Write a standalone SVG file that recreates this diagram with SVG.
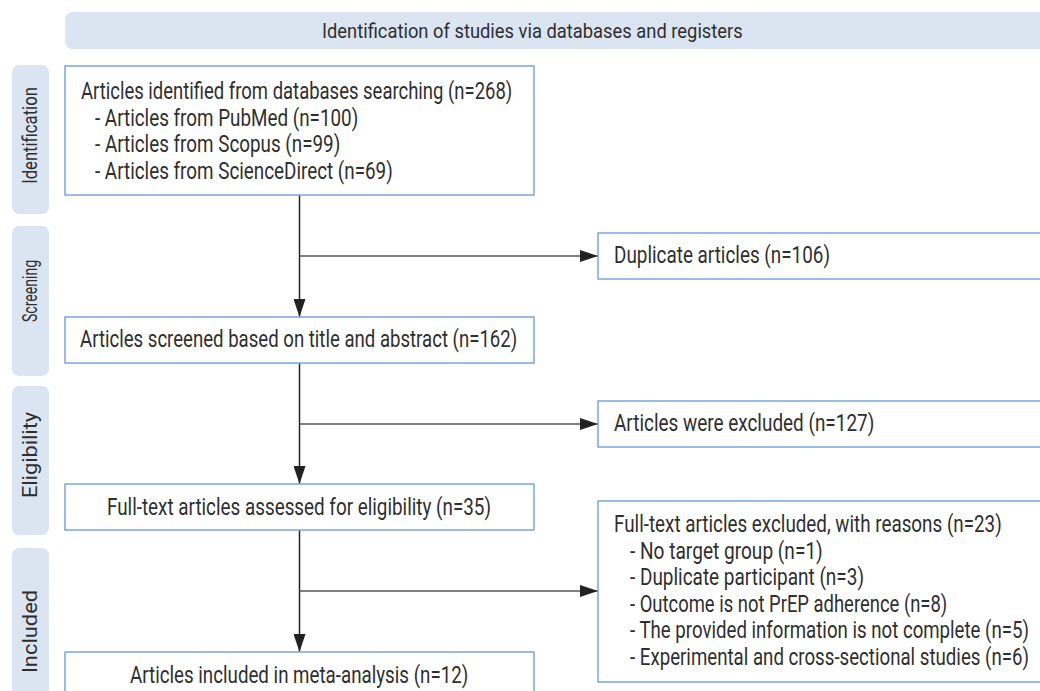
<svg xmlns="http://www.w3.org/2000/svg" width="1040" height="691" viewBox="0 0 1040 691">
<style>
.band{fill:#dbe5f2;}
.box{fill:#ffffff;stroke:#7aa6da;stroke-width:1.5;}
.t{font-family:Roboto,"Liberation Sans",sans-serif;font-size:23px;fill:#2f2f2f;}
.h{font-family:Roboto,"Liberation Sans",sans-serif;font-size:20.5px;fill:#2f2f2f;}
.s{font-family:Roboto,"Liberation Sans",sans-serif;font-size:21px;fill:#2f2f2f;}
.v{stroke:#222222;stroke-width:1.5;fill:none;}
.hz{stroke:#555555;stroke-width:1.5;fill:none;}
</style>
<defs>
<marker id="ah" markerUnits="userSpaceOnUse" markerWidth="18" markerHeight="12" refX="18" refY="6" orient="auto">
<path d="M0,0 L18,6 L0,12 Z" fill="#222222"/>
</marker>
</defs>
<rect width="1040" height="691" fill="#ffffff"/>
<g id="header">
<rect class="band" x="65" y="12" width="1000" height="37" rx="8"/>
<text class="h" transform="translate(322,38) scale(0.75,1)" textLength="561" lengthAdjust="spacingAndGlyphs">Identification of studies via databases and registers</text>
</g>
<g id="stage-identification">
<rect class="band" x="12" y="65" width="37" height="149" rx="7"/>
<text class="s" transform="translate(37,135.5) rotate(-90) scale(0.75,1)" text-anchor="middle" textLength="129" lengthAdjust="spacingAndGlyphs">Identification</text>
</g>
<g id="stage-screening">
<rect class="band" x="12" y="226" width="37" height="150" rx="7"/>
<text class="s" transform="translate(37,291) rotate(-90) scale(0.75,1)" text-anchor="middle" textLength="83" lengthAdjust="spacingAndGlyphs">Screening</text>
</g>
<g id="stage-eligibility">
<rect class="band" x="12" y="386" width="37" height="149" rx="7"/>
<text class="s" transform="translate(37,455) rotate(-90) scale(0.75,1)" text-anchor="middle" textLength="115" lengthAdjust="spacingAndGlyphs">Eligibility</text>
</g>
<g id="stage-included">
<rect class="band" x="12" y="548" width="37" height="180" rx="7"/>
<text class="s" transform="translate(37,631.5) rotate(-90) scale(0.75,1)" text-anchor="middle" textLength="111" lengthAdjust="spacingAndGlyphs">Included</text>
</g>
<g id="connectors">
<line class="v" x1="299.5" y1="195" x2="299.5" y2="317" marker-end="url(#ah)"/>
<line class="hz" x1="299.5" y1="256" x2="598" y2="256" marker-end="url(#ah)"/>
<line class="v" x1="299.5" y1="363" x2="299.5" y2="484" marker-end="url(#ah)"/>
<line class="hz" x1="299.5" y1="424" x2="598" y2="424" marker-end="url(#ah)"/>
<line class="v" x1="299.5" y1="530" x2="299.5" y2="652" marker-end="url(#ah)"/>
<line class="hz" x1="299.5" y1="591" x2="598" y2="591" marker-end="url(#ah)"/>
</g>
<g id="node-identified">
<rect class="box" x="65" y="66" width="469" height="129"/>
<text class="t" transform="translate(81,99) scale(0.75,1)" textLength="575" lengthAdjust="spacingAndGlyphs">Articles identified from databases searching (n=268)</text>
<text class="t" transform="translate(95,125.5) scale(0.75,1)" textLength="351" lengthAdjust="spacingAndGlyphs">- Articles from PubMed (n=100)</text>
<text class="t" transform="translate(95,152) scale(0.75,1)" textLength="327" lengthAdjust="spacingAndGlyphs">- Articles from Scopus (n=99)</text>
<text class="t" transform="translate(95,178.5) scale(0.75,1)" textLength="397" lengthAdjust="spacingAndGlyphs">- Articles from ScienceDirect (n=69)</text>
</g>
<g id="node-duplicates">
<rect class="box" x="598" y="233" width="460" height="46"/>
<text class="t" transform="translate(614,263) scale(0.75,1)" textLength="288" lengthAdjust="spacingAndGlyphs">Duplicate articles (n=106)</text>
</g>
<g id="node-screened">
<rect class="box" x="65" y="317" width="469" height="46"/>
<text class="t" transform="translate(80,347) scale(0.75,1)" textLength="583" lengthAdjust="spacingAndGlyphs">Articles screened based on title and abstract (n=162)</text>
</g>
<g id="node-excluded">
<rect class="box" x="598" y="401" width="460" height="46"/>
<text class="t" transform="translate(614,431) scale(0.75,1)" textLength="347" lengthAdjust="spacingAndGlyphs">Articles were excluded (n=127)</text>
</g>
<g id="node-fulltext">
<rect class="box" x="65" y="484" width="469" height="46"/>
<text class="t" transform="translate(107,515) scale(0.75,1)" textLength="512" lengthAdjust="spacingAndGlyphs">Full-text articles assessed for eligibility (n=35)</text>
</g>
<g id="node-fulltext-excluded">
<rect class="box" x="598" y="501" width="460" height="181"/>
<text class="t" transform="translate(614,532) scale(0.75,1)" textLength="517" lengthAdjust="spacingAndGlyphs">Full-text articles excluded, with reasons (n=23)</text>
<text class="t" transform="translate(630,558.5) scale(0.75,1)" textLength="257" lengthAdjust="spacingAndGlyphs">- No target group (n=1)</text>
<text class="t" transform="translate(630,585) scale(0.75,1)" textLength="312" lengthAdjust="spacingAndGlyphs">- Duplicate participant (n=3)</text>
<text class="t" transform="translate(630,611.5) scale(0.75,1)" textLength="423" lengthAdjust="spacingAndGlyphs">- Outcome is not PrEP adherence (n=8)</text>
<text class="t" transform="translate(630,638) scale(0.75,1)" textLength="532" lengthAdjust="spacingAndGlyphs">- The provided information is not complete (n=5)</text>
<text class="t" transform="translate(630,664.5) scale(0.75,1)" textLength="532" lengthAdjust="spacingAndGlyphs">- Experimental and cross-sectional studies (n=6)</text>
</g>
<g id="node-included">
<rect class="box" x="65" y="652" width="469" height="60"/>
<text class="t" transform="translate(130,683) scale(0.75,1)" textLength="451" lengthAdjust="spacingAndGlyphs">Articles included in meta-analysis (n=12)</text>
</g>
</svg>
